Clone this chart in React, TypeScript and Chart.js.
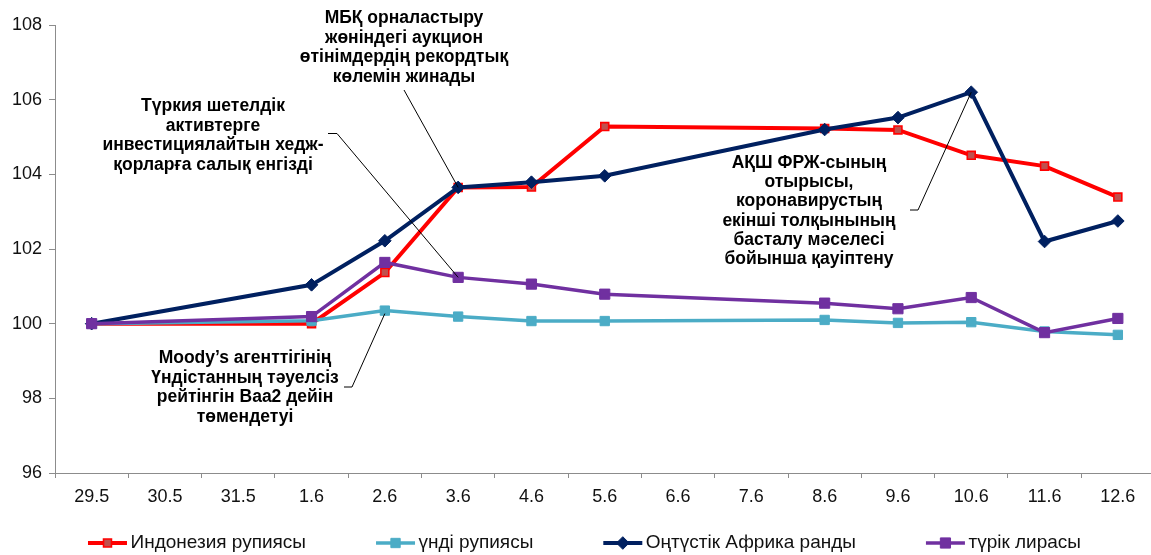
import React, { useEffect, useRef } from 'react';
import { Chart, registerables } from 'chart.js';

Chart.register(...registerables);

const FONT = '"Liberation Sans", Arial, sans-serif';

const categories = ['29.5', '30.5', '31.5', '1.6', '2.6', '3.6', '4.6', '5.6', '6.6', '7.6', '8.6', '9.6', '10.6', '11.6', '12.6'];

const idrValues = [100, null, null, 100.0, 101.37, 103.65, 103.66, 105.28, null, null, 105.23, 105.19, 104.51, 104.22, 103.39];
const inrValues = [100, null, null, 100.08, 100.35, 100.19, 100.07, 100.07, null, null, 100.1, 100.02, 100.04, 99.79, 99.7];
const zarValues = [100, null, null, 101.04, 102.22, 103.65, 103.79, 103.96, null, null, 105.2, 105.52, 106.2, 102.2, 102.75];
const tryValues = [100, null, null, 100.19, 101.64, 101.24, 101.06, 100.79, null, null, 100.55, 100.4, 100.7, 99.76, 100.14];

const seriesLabels = ['Индонезия рупиясы', 'үнді рупиясы', 'Оңтүстік Африка ранды', 'түрік лирасы'];

const yMin = 96;
const yMax = 108;
const yStep = 2;

const annotationTexts = [
  ['МБҚ орналастыру', 'жөніндегі аукцион', 'өтінімдердің рекордтық', 'көлемін жинады'],
  ['Түркия шетелдік', 'активтерге', 'инвестициялайтын хедж-', 'қорларға салық енгізді'],
  ['Moody’s агенттігінің', 'Үндістанның тәуелсіз', 'рейтінгін Baa2 дейін', 'төмендетуі'],
  ['АҚШ ФРЖ-сының', 'отырысы,', 'коронавирустың', 'екінші толқынының', 'басталу мәселесі', 'бойынша қауіптену'],
];

// layout of annotation boxes and callout anchors (dataset index, category index)
const annotationLayout = [
  { cx: 404, top: 18, lh: 19.7, path: [[404, 90]], ds: 2, idx: 5, dy: 0 },
  { cx: 213, top: 106, lh: 19.7, path: [[328, 133.5], [337, 133.5]], ds: 3, idx: 5, dy: 0 },
  { cx: 245, top: 358, lh: 19.7, path: [[344, 387], [352, 387]], ds: 1, idx: 4, dy: 3 },
  { cx: 809, top: 163, lh: 19.3, path: [[910, 210], [918, 210]], ds: 2, idx: 12, dy: 0 },
];

function drawMarker(ctx: CanvasRenderingContext2D, style: string, x: number, y: number, r: number, fill: string, stroke: string, bw: number) {
  ctx.beginPath();
  if (style === 'rectRot') {
    ctx.moveTo(x, y - r);
    ctx.lineTo(x + r, y);
    ctx.lineTo(x, y + r);
    ctx.lineTo(x - r, y);
    ctx.closePath();
  } else {
    const s = r * Math.SQRT1_2;
    ctx.rect(x - s, y - s, 2 * s, 2 * s);
  }
  ctx.fillStyle = fill;
  ctx.fill();
  if (bw > 0) {
    ctx.lineWidth = bw;
    ctx.strokeStyle = stroke;
    ctx.stroke();
  }
}

const annotationPlugin = {
  id: 'annotationsCustom',
  afterDatasetsDraw(chart: any) {
    const ctx: CanvasRenderingContext2D = chart.ctx;
    ctx.save();
    ctx.strokeStyle = '#000';
    ctx.lineWidth = 1;
    annotationLayout.forEach((a) => {
      const pt = chart.getDatasetMeta(a.ds).data[a.idx];
      ctx.beginPath();
      ctx.moveTo(a.path[0][0], a.path[0][1]);
      for (let i = 1; i < a.path.length; i++) ctx.lineTo(a.path[i][0], a.path[i][1]);
      ctx.lineTo(pt.x, pt.y + a.dy);
      ctx.stroke();
    });
    ctx.fillStyle = '#000';
    ctx.font = `bold 17.5px ${FONT}`;
    ctx.textAlign = 'center';
    ctx.textBaseline = 'middle';
    annotationLayout.forEach((a, k) => {
      annotationTexts[k].forEach((t, i) => {
        ctx.fillText(t, a.cx, a.top + i * a.lh);
      });
    });
    ctx.restore();
  },
  afterDraw(chart: any) {
    const ctx: CanvasRenderingContext2D = chart.ctx;
    ctx.save();
    ctx.font = `19px ${FONT}`;
    ctx.textBaseline = 'middle';
    ctx.textAlign = 'left';
    const items = chart.data.datasets.map((ds: any) => ({
      label: ds.label,
      color: ds.borderColor,
      fill: ds.pointBackgroundColor,
      pborder: ds.pointBorderColor,
      style: ds.pointStyle,
      r: ds.pointRadius,
      bw: ds.pointBorderWidth,
      lw: ds.borderWidth,
      w: ctx.measureText(ds.label).width,
    }));
    const lineLen = 39;
    const textGap = 3.5;
    const gap = 70;
    const total = items.reduce((s: number, it: any) => s + lineLen + textGap + it.w, 0) + gap * (items.length - 1);
    let x = 584.5 - total / 2;
    const y = 543;
    items.forEach((it: any) => {
      ctx.beginPath();
      ctx.strokeStyle = it.color;
      ctx.lineWidth = it.lw;
      ctx.moveTo(x, y);
      ctx.lineTo(x + lineLen, y);
      ctx.stroke();
      drawMarker(ctx, it.style, x + lineLen / 2, y, it.r, it.fill, it.pborder, it.bw);
      ctx.fillStyle = '#111';
      ctx.fillText(it.label, x + lineLen + textGap, y);
      x += lineLen + textGap + it.w + gap;
    });
    ctx.restore();
  },
};

export default function App() {
  const canvasRef = useRef<HTMLCanvasElement | null>(null);

  useEffect(() => {
    if (!canvasRef.current) return;
    const chart = new Chart(canvasRef.current, {
      type: 'line',
      data: {
        labels: categories,
        datasets: [
          {
            label: seriesLabels[0],
            data: idrValues,
            borderColor: '#FF0000',
            borderWidth: 4,
            pointStyle: 'rect',
            pointRadius: 5.6,
            pointBackgroundColor: '#C0504D',
            pointBorderColor: '#FF0000',
            pointBorderWidth: 1.6,
            spanGaps: true,
            order: 3,
          },
          {
            label: seriesLabels[1],
            data: inrValues,
            borderColor: '#4BACC6',
            borderWidth: 3.5,
            pointStyle: 'rect',
            pointRadius: 6.6,
            pointBackgroundColor: '#4BACC6',
            pointBorderColor: '#4BACC6',
            pointBorderWidth: 1,
            spanGaps: true,
            order: 2,
          },
          {
            label: seriesLabels[2],
            data: zarValues,
            borderColor: '#002060',
            borderWidth: 4,
            pointStyle: 'rectRot',
            pointRadius: 6.3,
            pointBackgroundColor: '#002060',
            pointBorderColor: '#002060',
            pointBorderWidth: 1,
            spanGaps: true,
            order: 1,
          },
          {
            label: seriesLabels[3],
            data: tryValues,
            borderColor: '#7030A0',
            borderWidth: 3.5,
            pointStyle: 'rect',
            pointRadius: 7.2,
            pointBackgroundColor: '#7030A0',
            pointBorderColor: '#7030A0',
            pointBorderWidth: 1,
            spanGaps: true,
            order: 0,
          },
        ],
      },
      options: {
        animation: false,
        responsive: true,
        maintainAspectRatio: false,
        layout: { padding: { top: 25, right: 10.5, left: 0, bottom: 0 } },
        elements: { line: { tension: 0 } },
        plugins: {
          legend: { display: false },
          tooltip: { enabled: false },
        },
        scales: {
          x: {
            type: 'category',
            offset: true,
            grid: {
              display: true,
              drawOnChartArea: false,
              drawTicks: true,
              tickLength: 5,
              color: '#8C8C8C',
              offset: true,
            },
            border: { display: true, color: '#8C8C8C', width: 1 },
            ticks: {
              color: '#111',
              font: { family: FONT, size: 18 },
              padding: 8,
              maxRotation: 0,
              autoSkip: false,
            },
            afterFit: (scale: any) => {
              scale.height = 82;
            },
          },
          y: {
            min: yMin,
            max: yMax,
            grid: {
              display: true,
              drawOnChartArea: false,
              drawTicks: true,
              tickLength: 6,
              color: '#8C8C8C',
            },
            border: { display: true, color: '#8C8C8C', width: 1 },
            ticks: {
              stepSize: yStep,
              color: '#111',
              font: { family: FONT, size: 18 },
              padding: 7,
            },
            afterFit: (scale: any) => {
              scale.width = 55;
            },
          },
        },
      },
      plugins: [annotationPlugin],
    } as any);
    return () => chart.destroy();
  }, []);

  return (
    <div style={{ position: 'fixed', top: 0, left: 0, width: 1151, height: 555, overflow: 'hidden', background: '#fff' }}>
      <div style={{ position: 'relative', width: 1165, height: 555 }}>
        <canvas ref={canvasRef} style={{ display: 'block' }} />
      </div>
    </div>
  );
}
